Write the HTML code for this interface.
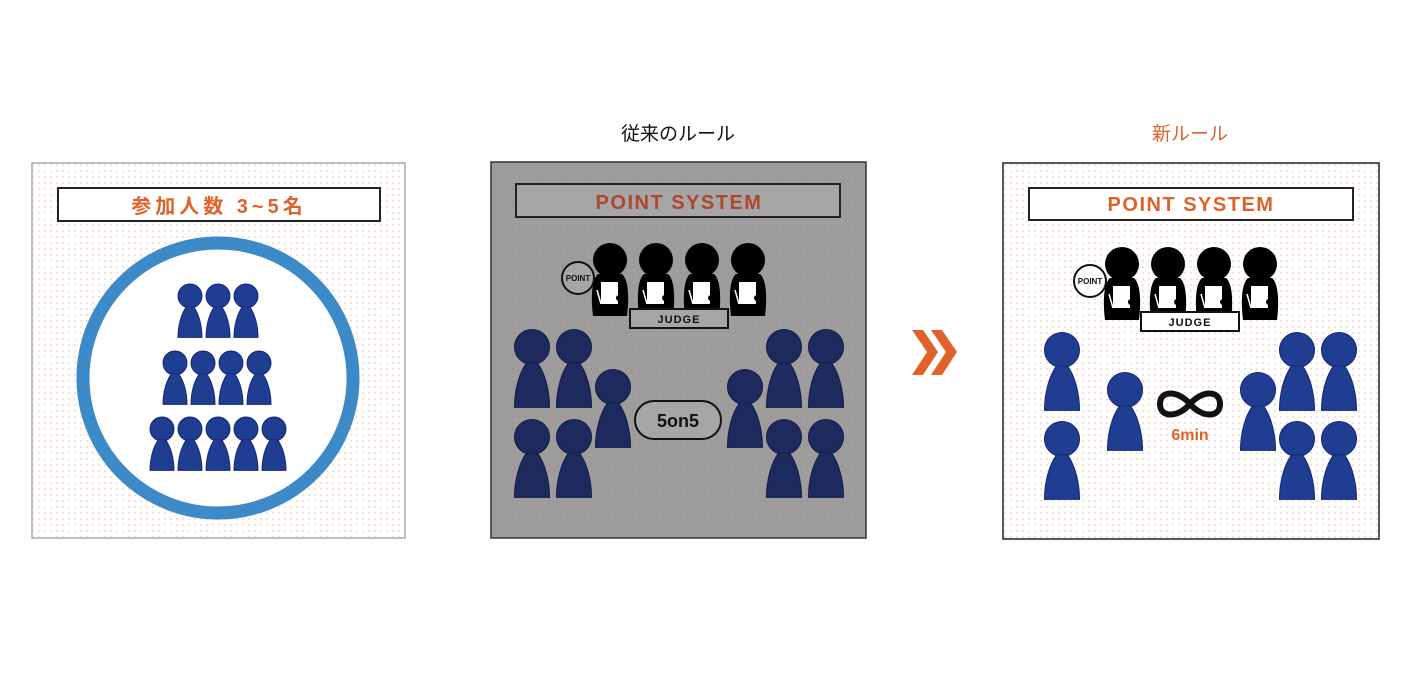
<!DOCTYPE html>
<html><head><meta charset="utf-8"><style>
html,body{margin:0;padding:0;background:#fff;}
svg{display:block;font-family:"Liberation Sans","Noto Sans CJK JP",sans-serif;}
</style></head><body>
<svg width="1408" height="696" viewBox="0 0 1408 696" xmlns="http://www.w3.org/2000/svg">
<defs>
<pattern id="dp" width="6" height="6" patternUnits="userSpaceOnUse"><circle cx="3" cy="3" r="0.9" fill="#f2c9c4"/></pattern>
<pattern id="dg" width="6" height="6" patternUnits="userSpaceOnUse"><rect width="6" height="6" fill="#9d9d9d"/><circle cx="3" cy="3" r="0.9" fill="#a98d8d"/></pattern>
<g id="pawn"><circle cx="0" cy="0" r="1"/><path d="M-0.3,0.9 C-0.75,1.5 -1,2.5 -1,3.45 L1,3.45 C1,2.5 0.75,1.5 0.3,0.9 Z"/></g>
<g id="judge">
<circle cx="0" cy="0" r="17" fill="#000"/>
<path d="M-12,14 C-19,20 -19,40 -17,56 L17,56 C19,40 19,20 12,14 Z" fill="#000"/>
<rect x="-9" y="22" width="17" height="22" fill="#fff"/>
<line x1="-13" y1="30" x2="-9" y2="44" stroke="#fff" stroke-width="1.5"/>
<circle cx="9" cy="38" r="3" fill="#000"/>
</g>
</defs>

<!-- Left panel -->
<rect x="32" y="163" width="373" height="375" fill="#fff" stroke="#aaa" stroke-width="1.5"/>
<rect x="33" y="164" width="371" height="373" fill="url(#dp)"/>
<rect x="58" y="188" width="322" height="33" fill="#fff" stroke="#222" stroke-width="2"/>
<text x="219" y="213" text-anchor="middle" font-size="20" font-weight="bold" fill="#e0622a" letter-spacing="4">参加人数 3~5名</text>
<circle cx="218" cy="378" r="135" fill="#fff" stroke="#3d8ac8" stroke-width="13"/>
<g fill="#1f3e92" stroke="#12277a" stroke-width="0.08">
<use href="#pawn" transform="translate(190,296) scale(12)"/>
<use href="#pawn" transform="translate(218,296) scale(12)"/>
<use href="#pawn" transform="translate(246,296) scale(12)"/>
<use href="#pawn" transform="translate(175,363) scale(12)"/>
<use href="#pawn" transform="translate(203,363) scale(12)"/>
<use href="#pawn" transform="translate(231,363) scale(12)"/>
<use href="#pawn" transform="translate(259,363) scale(12)"/>
<use href="#pawn" transform="translate(162,429) scale(12)"/>
<use href="#pawn" transform="translate(190,429) scale(12)"/>
<use href="#pawn" transform="translate(218,429) scale(12)"/>
<use href="#pawn" transform="translate(246,429) scale(12)"/>
<use href="#pawn" transform="translate(274,429) scale(12)"/>
</g>

<!-- Middle panel -->
<text x="678" y="140" text-anchor="middle" font-size="19" fill="#111">従来のルール</text>
<rect x="491" y="162" width="375" height="376" fill="url(#dg)" stroke="#333" stroke-width="1.5"/>
<rect x="516" y="184" width="324" height="33" fill="#a6a6a6" stroke="#222" stroke-width="2"/>
<text x="679" y="209" text-anchor="middle" font-size="20" font-weight="bold" fill="#b0462a" letter-spacing="1.5">POINT SYSTEM</text>
<use href="#judge" transform="translate(610,260)"/>
<use href="#judge" transform="translate(656,260)"/>
<use href="#judge" transform="translate(702,260)"/>
<use href="#judge" transform="translate(748,260)"/>
<circle cx="578" cy="278" r="16" fill="#a6a6a6" stroke="#111" stroke-width="2"/>
<text x="578" y="281" text-anchor="middle" font-size="8" font-weight="bold" fill="#111">POINT</text>
<rect x="630" y="309" width="98" height="19" fill="#a6a6a6" stroke="#111" stroke-width="2"/>
<text x="679" y="323" text-anchor="middle" font-size="11" font-weight="bold" fill="#111" letter-spacing="1">JUDGE</text>
<g fill="#1e2a5e" stroke="#141d48" stroke-width="0.06">
<use href="#pawn" transform="translate(532,347) scale(17.5)"/>
<use href="#pawn" transform="translate(574,347) scale(17.5)"/>
<use href="#pawn" transform="translate(532,437) scale(17.5)"/>
<use href="#pawn" transform="translate(574,437) scale(17.5)"/>
<use href="#pawn" transform="translate(613,387) scale(17.5)"/>
<use href="#pawn" transform="translate(745,387) scale(17.5)"/>
<use href="#pawn" transform="translate(784,347) scale(17.5)"/>
<use href="#pawn" transform="translate(826,347) scale(17.5)"/>
<use href="#pawn" transform="translate(784,437) scale(17.5)"/>
<use href="#pawn" transform="translate(826,437) scale(17.5)"/>
</g>
<rect x="635" y="401" width="86" height="38" rx="19" fill="#a6a6a6" stroke="#111" stroke-width="2"/>
<text x="678" y="427" text-anchor="middle" font-size="18" font-weight="bold" fill="#111">5on5</text>

<!-- Arrow chevrons -->
<polygon points="912,330 923,330 938,352 923,375 912,375 927,352" fill="#e0622a"/>
<polygon points="931,330 942,330 957,352 942,375 931,375 946,352" fill="#e0622a"/>

<!-- Right panel -->
<text x="1190" y="140" text-anchor="middle" font-size="19" fill="#e0622a">新ルール</text>
<rect x="1003" y="163" width="376" height="376" fill="#fff" stroke="#222" stroke-width="1.5"/>
<rect x="1004" y="164" width="374" height="374" fill="url(#dp)"/>
<rect x="1029" y="188" width="324" height="32" fill="#fff" stroke="#222" stroke-width="2"/>
<text x="1191" y="211" text-anchor="middle" font-size="20" font-weight="bold" fill="#e0622a" letter-spacing="1.5">POINT SYSTEM</text>
<use href="#judge" transform="translate(1122,264)"/>
<use href="#judge" transform="translate(1168,264)"/>
<use href="#judge" transform="translate(1214,264)"/>
<use href="#judge" transform="translate(1260,264)"/>
<circle cx="1090" cy="281" r="16" fill="#fff" stroke="#111" stroke-width="2"/>
<text x="1090" y="284" text-anchor="middle" font-size="8" font-weight="bold" fill="#111">POINT</text>
<rect x="1141" y="312" width="98" height="19" fill="#fff" stroke="#111" stroke-width="2"/>
<text x="1190" y="326" text-anchor="middle" font-size="11" font-weight="bold" fill="#111" letter-spacing="1">JUDGE</text>
<g fill="#1f3e92" stroke="#12277a" stroke-width="0.06">
<use href="#pawn" transform="translate(1062,350) scale(17.5)"/>
<use href="#pawn" transform="translate(1062,439) scale(17.5)"/>
<use href="#pawn" transform="translate(1125,390) scale(17.5)"/>
<use href="#pawn" transform="translate(1258,390) scale(17.5)"/>
<use href="#pawn" transform="translate(1297,350) scale(17.5)"/>
<use href="#pawn" transform="translate(1339,350) scale(17.5)"/>
<use href="#pawn" transform="translate(1297,439) scale(17.5)"/>
<use href="#pawn" transform="translate(1339,439) scale(17.5)"/>
</g>
<path d="M1190,404 C1178,390 1160,390 1160,404 C1160,418 1178,418 1190,404 C1202,390 1220,390 1220,404 C1220,418 1202,418 1190,404 Z" fill="none" stroke="#111" stroke-width="6"/>
<text x="1190" y="440" text-anchor="middle" font-size="16" font-weight="bold" fill="#e0622a">6min</text>
</svg>
</body></html>
